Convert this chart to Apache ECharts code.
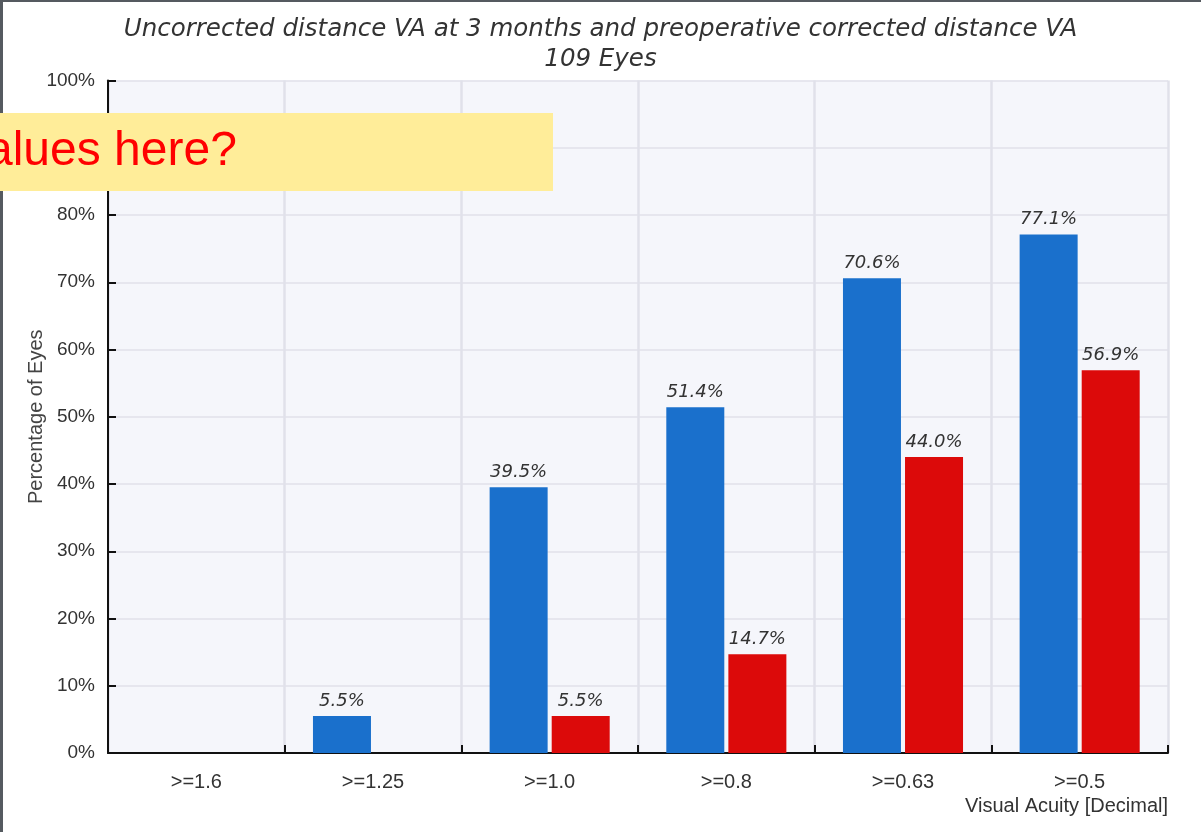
<!DOCTYPE html>
<html>
<head>
<meta charset="utf-8">
<script src="https://cdn.jsdelivr.net/npm/echarts@6/dist/echarts.min.js"></script>
<style>
html,body{margin:0;padding:0;background:#fff;}
#c{width:1201px;height:832px;}
</style>
</head>
<body>
<div id="c"></div>
<script>
const categories = ['>=1.6', '>=1.25', '>=1.0', '>=0.8', '>=0.63', '>=0.5'];
const uncorrectedVA = [0, 5.5, 39.5, 51.4, 70.6, 77.1];
const preopCorrectedVA = [0, 0, 5.5, 14.7, 44.0, 56.9];
const yTicks = [0, 10, 20, 30, 40, 50, 60, 70, 80, 90, 100];

const chart = echarts.init(document.getElementById('c'), null, {renderer: 'canvas'});
const labelStyle = {
  show: true,
  position: 'top',
  distance: 6,
  fontFamily: 'DejaVu Sans',
  fontStyle: 'italic',
  fontSize: 18,
  color: '#333',
  formatter: p => p.value > 0 ? p.value.toFixed(1) + '%' : ''
};
chart.setOption({
  animation: false,
  backgroundColor: '#ffffff',
  title: {
    text: 'Uncorrected distance VA at 3 months and preoperative corrected distance VA\n109 Eyes',
    left: 'center',
    top: 10,
    textStyle: {
      fontFamily: 'DejaVu Sans',
      fontStyle: 'italic',
      fontWeight: 'normal',
      fontSize: 24.5,
      color: '#333',
      lineHeight: 30
    }
  },
  grid: {left: 108, right: 33, top: 80.5, bottom: 79, show: true, backgroundColor: '#f5f6fb', borderWidth: 0},
  xAxis: {
    type: 'category',
    data: categories,
    name: 'Visual Acuity [Decimal]',
    nameLocation: 'end',
    nameGap: 0,
    nameTextStyle: {
      fontFamily: 'Liberation Sans', fontSize: 20, color: '#333',
      align: 'right', verticalAlign: 'top', padding: [43, 0, 0, 0]
    },
    axisLine: {lineStyle: {color: '#111', width: 2}},
    axisTick: {show: true, inside: true, length: 8, lineStyle: {color: '#111', width: 2}},
    axisLabel: {fontFamily: 'Liberation Sans', fontSize: 20, color: '#333', margin: 19},
    splitLine: {show: true, lineStyle: {color: '#e0e1ea', width: 2.5}}
  },
  yAxis: {
    type: 'value',
    min: 0,
    max: 100,
    interval: 10,
    name: 'Percentage of Eyes',
    nameLocation: 'middle',
    nameGap: 62,
    nameMoveOverlap: false,
    nameTextStyle: {fontFamily: 'Liberation Sans', fontSize: 20, color: '#444'},
    axisLine: {show: true, lineStyle: {color: '#111', width: 2}},
    axisTick: {show: true, inside: true, length: 8, lineStyle: {color: '#111', width: 2}},
    axisLabel: {
      fontFamily: 'Liberation Sans', fontSize: 19, color: '#333', margin: 13,
      formatter: v => yTicks.includes(v) ? v + '%' : ''
    },
    splitLine: {show: true, lineStyle: {color: '#e0e1ea', width: 1.5}}
  },
  series: [
    {
      name: 'Uncorrected distance VA at 3 months',
      type: 'bar',
      data: uncorrectedVA,
      barWidth: 58,
      barGap: '7%',
      itemStyle: {color: '#1a70cc'},
      label: labelStyle
    },
    {
      name: 'Preoperative corrected distance VA',
      type: 'bar',
      data: preopCorrectedVA,
      barWidth: 58,
      itemStyle: {color: '#dc0a0a'},
      label: labelStyle
    }
  ],
  graphic: [
    {type: 'rect', left: 0, top: 0, shape: {width: 3, height: 832}, style: {fill: '#555a60'}, z: 100},
    {type: 'rect', left: 0, top: 0, shape: {width: 1201, height: 2}, style: {fill: '#555a60'}, z: 100},
    {type: 'rect', left: 0, top: 113, shape: {width: 553, height: 78}, style: {fill: '#ffed99'}, z: 101},
    {type: 'text', x: -38, y: 152, style: {text: 'values here?', fontFamily: 'Liberation Sans', fontSize: 48, fill: '#ff0000', textVerticalAlign: 'middle'}, z: 102}
  ]
});
</script>
</body>
</html>
